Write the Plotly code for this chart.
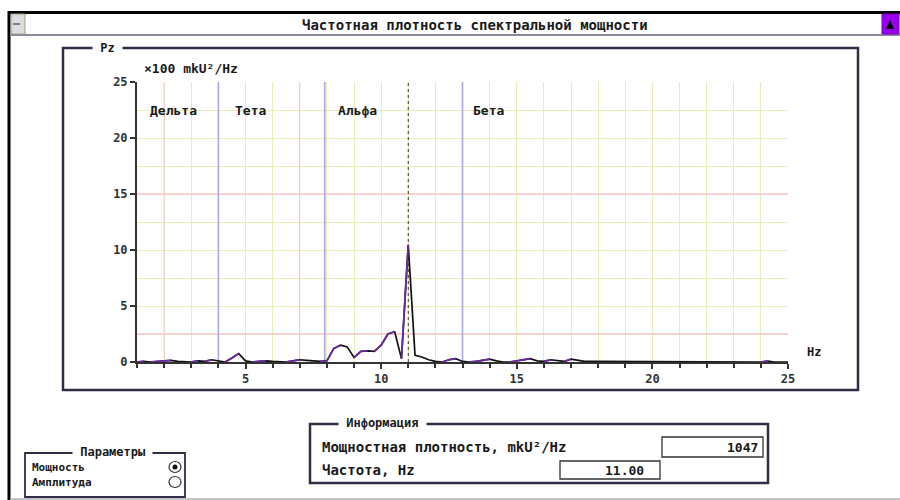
import plotly.graph_objects as go

# Spectrum, sampled every 0.25 Hz from 1 to 25 Hz (units: x100 mkU^2/Hz)
freq_start = 1.0
freq_step = 0.25
power = [
    0.00, 0.05, 0.00, 0.05, 0.10, 0.15, 0.05, 0.00,   # 1.00 - 2.75
    0.00, 0.10, 0.05, 0.20, 0.10, 0.00, 0.35, 0.75,   # 3.00 - 4.75
    0.10, 0.00, 0.05, 0.10, 0.05, 0.00, 0.00, 0.10,   # 5.00 - 6.75
    0.20, 0.15, 0.10, 0.05, 0.10, 1.20, 1.50, 1.35,   # 7.00 - 8.75
    0.40, 0.95, 1.00, 0.95, 1.50, 2.50, 2.70, 0.30,   # 9.00 - 10.75
    10.47, 0.60, 0.45, 0.20, 0.05, 0.00, 0.20, 0.30,  # 11.00 - 12.75
    0.05, 0.00, 0.05, 0.15, 0.25, 0.10, 0.00, 0.00,   # 13.00 - 14.75
    0.10, 0.20, 0.30, 0.10, 0.05, 0.20, 0.15, 0.05,   # 15.00 - 16.75
    0.25, 0.15, 0.05, 0.05, 0.05, 0.00, 0.00, 0.00,   # 17.00 - 18.75
    0.00, 0.00, 0.00, 0.00, 0.00, 0.00, 0.00, 0.00,   # 19.00 - 20.75
    0.00, 0.00, 0.00, 0.00, 0.00, 0.00, 0.00, 0.00,   # 21.00 - 22.75
    0.00, 0.00, 0.00, 0.00, 0.00, 0.08, 0.00, 0.00,   # 23.00 - 24.75
    0.00,                                             # 25.00
]
freqs = [freq_start + i * freq_step for i in range(len(power))]

# EEG rhythm bands
band_names = ["Дельта", "Тета", "Альфа", "Бета"]
band_label_x = [1.4, 4.55, 8.33, 13.3]
band_edges = [4, 7.92, 13]

cursor_freq = 11.00
cursor_power = 1047  # mkU^2/Hz

x_ticks = [5, 10, 15, 20, 25]
y_ticks = [0, 5, 10, 15, 20, 25]

W, H = 900, 500
MONO = "DejaVu Sans Mono"
TXT = "#1a1a1a"


def X(p):
    return p / W


def Y(p):
    return 1 - p / H


fig = go.Figure()

# Curve: falling segments in black, rising segments in purple
fig.add_trace(go.Scatter(x=freqs, y=power, mode="lines",
                         line=dict(color="#111111", width=1.7),
                         hoverinfo="skip", showlegend=False))
rx, ry = [], []
for i in range(len(power) - 1):
    if power[i + 1] > power[i]:
        rx += [freqs[i], freqs[i + 1], None]
        ry += [power[i], power[i + 1], None]
fig.add_trace(go.Scatter(x=rx, y=ry, mode="lines",
                         line=dict(color="#6a2aa0", width=1.8),
                         hoverinfo="skip", showlegend=False))

shapes = []

# Accent grid lines
for xv in [2, 7]:
    shapes.append(dict(type="line", xref="x", yref="y", x0=xv, x1=xv, y0=0, y1=25,
                       line=dict(color="#f4c8cc", width=1), layer="between"))
for yv in [2.5, 15]:
    shapes.append(dict(type="line", xref="x", yref="y", x0=1, x1=25, y0=yv, y1=yv,
                       line=dict(color="#f4c8cc", width=1.5), layer="between"))
# Band boundaries
for xv in band_edges:
    shapes.append(dict(type="line", xref="x", yref="y", x0=xv, x1=xv, y0=0, y1=25,
                       line=dict(color="#a8a8e6", width=1.6), layer="between"))
# Cursor
shapes.append(dict(type="line", xref="x", yref="y", x0=cursor_freq, x1=cursor_freq,
                   y0=0, y1=25, line=dict(color="#333333", width=1, dash="dot"),
                   layer="between"))


def rect(x0, y0, x1, y1, color="#2e2e44", width=2, fill=None):
    d = dict(type="rect", xref="paper", yref="paper",
             x0=X(x0), x1=X(x1), y0=Y(y1), y1=Y(y0),
             line=dict(color=color, width=width), layer="above")
    if fill:
        d["fillcolor"] = fill
    shapes.append(d)


def hline(x0, x1, y, color, width):
    shapes.append(dict(type="line", xref="paper", yref="paper", x0=X(x0), x1=X(x1),
                       y0=Y(y), y1=Y(y), line=dict(color=color, width=width), layer="above"))


def vline(x, y0, y1, color, width):
    shapes.append(dict(type="line", xref="paper", yref="paper", x0=X(x), x1=X(x),
                       y0=Y(y0), y1=Y(y1), line=dict(color=color, width=width), layer="above"))


# Window frame and title bar
hline(8, 900, 12.5, "#000000", 3)
vline(9, 11, 500, "#000000", 3)
hline(10, 900, 35, "#8a8a9a", 2)
hline(10, 900, 499, "#b0b0b0", 1.5)
rect(11, 14, 25, 34, color="#a0a080", width=1, fill="#dcdcdc")
hline(13, 20, 24, "#7a7a9a", 2)
rect(882, 14, 899, 34, color="#7a00c8", width=1, fill="#9a00f0")
shapes.append(dict(type="path", xref="paper", yref="paper",
                   path=f"M {X(886)} {Y(29)} L {X(894)} {Y(29)} L {X(890)} {Y(20)} Z",
                   fillcolor="#000000", line=dict(width=0), layer="above"))

# Group boxes
rect(63, 48, 858, 390, width=2.5)
rect(310, 424, 768, 483, width=2.5)
rect(25, 453, 185, 497, width=1.8)
# Value fields
rect(662, 437, 763, 457, color="#333333", width=1.3)
rect(560, 461, 660, 479, color="#333333", width=1.3)
# Radio buttons
for cy, filled in [(467, True), (482, False)]:
    shapes.append(dict(type="circle", xref="paper", yref="paper",
                       x0=X(169), x1=X(181), y0=Y(cy + 5.5), y1=Y(cy - 5.5),
                       line=dict(color="#333333", width=1.2), layer="above"))
    if filled:
        shapes.append(dict(type="circle", xref="paper", yref="paper",
                           x0=X(172.5), x1=X(177.5), y0=Y(cy + 2.5), y1=Y(cy - 2.5),
                           fillcolor="#111111", line=dict(width=0), layer="above"))

annotations = []


def label(text, x, y, size=13, anchor="left", bg=None, bold=True, color=TXT):
    a = dict(xref="paper", yref="paper", x=X(x), y=Y(y), text=f"<b>{text}</b>" if bold else text,
             showarrow=False, xanchor=anchor, yanchor="middle",
             font=dict(family=MONO, size=size, color=color), borderpad=0)
    if bg:
        a["bgcolor"] = bg
    annotations.append(a)


label("Частотная плотность спектральной мощности", 475, 25, size=14, anchor="center")
label(" Pz ", 92, 48, size=12, bg="#ffffff")
label("×100 mkU²/Hz", 143, 68, size=13)
label("Hz", 806, 352, size=12)
for name, bx in zip(band_names, band_label_x):
    annotations.append(dict(xref="x", yref="y", x=bx, y=22.5, text=f"<b>{name}</b>",
                            showarrow=False, xanchor="left", yanchor="middle",
                            font=dict(family=MONO, size=13, color=TXT)))
label(" Информация ", 338, 423, size=12, bg="#ffffff")
label("Мощностная плотность, mkU²/Hz", 321, 447, size=14)
label(str(cursor_power), 759, 447, size=13, anchor="right")
label("Частота, Hz", 321, 470, size=14)
label(f"{cursor_freq:.2f}", 645, 470, size=13, anchor="right")
label(" Параметры ", 112, 452, size=12, anchor="center", bg="#ffffff")
label("Мощность", 31, 467, size=11)
label("Амплитуда", 31, 482, size=11)

grid_col = "#ececb8"
tick_font = dict(family=MONO, size=12, color="#333333", weight="bold")
fig.update_layout(
    width=W, height=H,
    margin=dict(l=0, r=0, t=0, b=0, autoexpand=False),
    paper_bgcolor="#ffffff", plot_bgcolor="#ffffff",
    shapes=shapes, annotations=annotations,
    xaxis=dict(domain=[X(137), X(788)], range=[1, 25], tickvals=x_ticks, automargin=False,
               ticks="outside", ticklen=5, tickwidth=2, tickcolor="#333333",
               showline=True, linecolor="#333333", linewidth=2,
               showgrid=True, gridcolor=grid_col, gridwidth=1, zeroline=False,
               minor=dict(dtick=1, tick0=0, ticks="outside", ticklen=4, tickwidth=1.5,
                          tickcolor="#333333", showgrid=True, gridcolor=grid_col),
               tickfont=tick_font),
    yaxis=dict(domain=[Y(362), Y(82)], range=[0, 25], tickvals=y_ticks, automargin=False,
               ticks="outside", ticklen=5, tickwidth=2, tickcolor="#333333",
               showline=True, linecolor="#333333", linewidth=2,
               showgrid=True, gridcolor=grid_col, gridwidth=1, zeroline=False,
               minor=dict(dtick=2.5, tick0=0, ticks="", showgrid=True, gridcolor=grid_col),
               tickfont=tick_font),
)

fig.write_html("out.html")
